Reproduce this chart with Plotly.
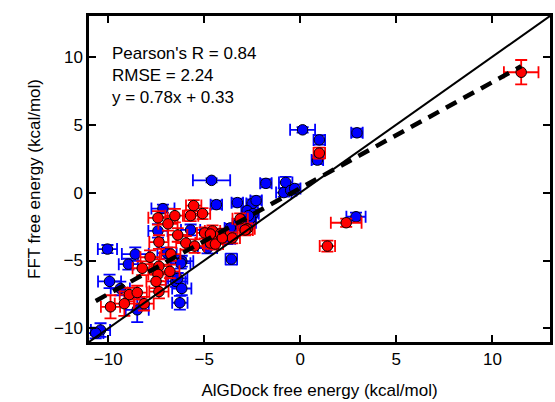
import plotly.graph_objects as go

# Blue series
blue_x = [0.12, 2.95, 0.99, 0.89, -4.62, -1.79, -0.76, -0.86, -0.5, -0.29, 2.9, -4.37, -3.28, -2.51, -2.3,
          -2.77, -2.46, -2.61, -3.23, -3.64, -3.59, -7.15, -7.41, -5.71, -4.83, -6.94, -10.04, -8.59, -8.95,
          -6.17, -9.93, -9.37, -6.48, -6.17, -6.27, -8.49, -10.4, -10.65, -6.22, -6.38, -3.79, -3.03, -2.6, -2.7]
blue_y = [4.62, 4.4, 3.88, 2.39, 0.9, 0.68, 0.75, 0.0, 0.16, 0.3, -1.78, -0.89, -0.74, -0.81, -0.59,
          -1.33, -1.55, -2.22, -2.3, -2.6, -4.9, -1.18, -2.82, -2.75, -4.08, -4.46, -4.16, -4.53, -5.27,
          -5.05, -6.54, -7.06, -6.54, -7.06, -8.11, -8.63, -10.12, -10.34, -5.2, -6.32, -3.4, -2.45, -1.9, -1.7]
blue_xerr = [0.65, 0.3, 0.3, 0.3, 0.97, 0.3, 0.35, 0.4, 0.3, 0.3, 0.5, 0.3, 0.3, 0.3, 0.3,
             0.3, 0.3, 0.3, 0.3, 0.3, 0.3, 0.6, 0.5, 0.5, 0.5, 0.5, 0.5, 0.7, 0.5,
             0.6, 0.6, 0.5, 0.5, 0.5, 0.4, 0.6, 0.5, 0.4, 0.5, 0.5, 0.4, 0.3, 0.3, 0.3]
blue_yerr = [0.2, 0.3, 0.35, 0.3, 0.15, 0.3, 0.4, 0.3, 0.3, 0.3, 0.3, 0.3, 0.3, 0.3, 0.3,
             0.3, 0.3, 0.3, 0.3, 0.3, 0.4, 0.3, 0.5, 0.4, 0.4, 0.4, 0.3, 0.5, 0.4,
             0.4, 0.5, 0.5, 0.4, 0.5, 0.5, 0.9, 0.5, 0.4, 0.4, 0.4, 0.4, 0.3, 0.3, 0.3]

# Red series
red_x = [11.5, 0.99, 2.39, 1.41, -5.55, -5.09, -5.71, -6.53, -7.41, -6.89, -6.38, -7.36, -4.57, -4.98,
         -4.16, -3.54, -2.77, -4.68, -4.42, -7.82, -8.23, -7.36, -7.41, -7.51, -6.79, -8.9, -8.49, -7.36,
         -9.16, -8.13, -9.88, -4.68, -4.06, -5.96, -6.74, -5.5, -2.87, -3.13]
red_y = [8.86, 2.91, -2.22, -3.94, -0.96, -1.55, -1.7, -1.7, -1.86, -2.3, -3.12, -3.64, -2.82, -2.97,
         -3.05, -3.34, -2.67, -3.71, -3.79, -4.76, -5.57, -5.42, -6.02, -6.54, -5.8, -7.51, -7.36, -7.29,
         -8.18, -8.18, -8.41, -3.05, -3.34, -3.71, -4.53, -3.94, -2.75, -1.93]
red_xerr = [0.9, 0.3, 0.8, 0.4, 0.4, 0.4, 0.4, 0.5, 0.5, 0.5, 0.5, 0.5, 0.4, 0.4,
            0.4, 0.4, 0.4, 0.4, 0.4, 0.5, 0.5, 0.5, 0.5, 0.5, 0.5, 0.5, 0.5, 0.5,
            0.5, 0.5, 0.5, 0.4, 0.4, 0.5, 0.5, 0.5, 0.4, 0.4]
red_yerr = [0.9, 0.4, 0.3, 0.4, 0.4, 0.4, 0.4, 0.5, 0.5, 0.5, 0.5, 0.5, 0.4, 0.4,
            0.4, 0.4, 0.4, 0.4, 0.4, 0.5, 0.5, 0.5, 0.5, 0.5, 0.5, 0.5, 0.5, 0.5,
            0.9, 0.5, 0.85, 0.4, 0.4, 0.5, 0.5, 0.5, 0.4, 0.4]

slope = 0.78
intercept = 0.33
axis_range = [-11, 13]
ticks = [-10, -5, 0, 5, 10]
stats_lines = ["Pearson's R = 0.84", "RMSE = 2.24", "y = 0.78x + 0.33"]

FONT = "Arial, Liberation Sans, sans-serif"

fig = go.Figure()

def add_series(xs, ys, xe, ye, color):
    fig.add_trace(go.Scatter(
        x=xs, y=ys, mode="markers",
        marker=dict(size=10.5, color=color, line=dict(color="black", width=1)),
        error_x=dict(type="data", array=xe, color=color, thickness=1.8, width=6),
        error_y=dict(type="data", array=ye, color=color, thickness=1.8, width=6),
        showlegend=False, hoverinfo="skip"))

add_series(blue_x, blue_y, blue_xerr, blue_yerr, "#0000ff")
add_series(red_x, red_y, red_xerr, red_yerr, "#ff0000")

# identity line
fig.add_trace(go.Scatter(x=axis_range, y=axis_range, mode="lines",
                         line=dict(color="black", width=2), showlegend=False, hoverinfo="skip"))
# regression line
all_x = blue_x + red_x
xmin, xmax = min(all_x), max(all_x)
fig.add_trace(go.Scatter(x=[xmin, xmax], y=[slope * xmin + intercept, slope * xmax + intercept],
                         mode="lines", line=dict(color="black", width=4.5, dash="12px,8px"),
                         showlegend=False, hoverinfo="skip"))

for i, t in enumerate(stats_lines):
    fig.add_annotation(x=0.045, y=0.885 - i * 0.0675, xref="paper", yref="paper",
                       text=t, showarrow=False, xanchor="left", yanchor="middle",
                       font=dict(family=FONT, size=17, color="black"))

axis_common = dict(range=axis_range, tickvals=ticks, ticktext=["\u221210", "\u22125", "0", "5", "10"],
                   showline=True, linecolor="black", linewidth=2.5, mirror="ticks",
                   ticks="inside", ticklen=7, tickwidth=1.5, tickcolor="black",
                   showgrid=False, zeroline=False,
                   tickfont=dict(family=FONT, size=17, color="black"))

fig.update_layout(
    width=555, height=402,
    margin=dict(l=89, r=2, t=16, b=60),
    paper_bgcolor="white", plot_bgcolor="white",
    xaxis=dict(**axis_common, title=dict(text="AlGDock free energy (kcal/mol)",
                                         font=dict(family=FONT, size=17, color="black"), standoff=16)),
    yaxis=dict(**axis_common, title=dict(text="FFT free energy (kcal/mol)",
                                         font=dict(family=FONT, size=17, color="black"), standoff=10)),
)

fig.write_html("out.html", config={"displayModeBar": False},
               post_script="document.body.style.margin='0';document.body.style.overflow='hidden';")
